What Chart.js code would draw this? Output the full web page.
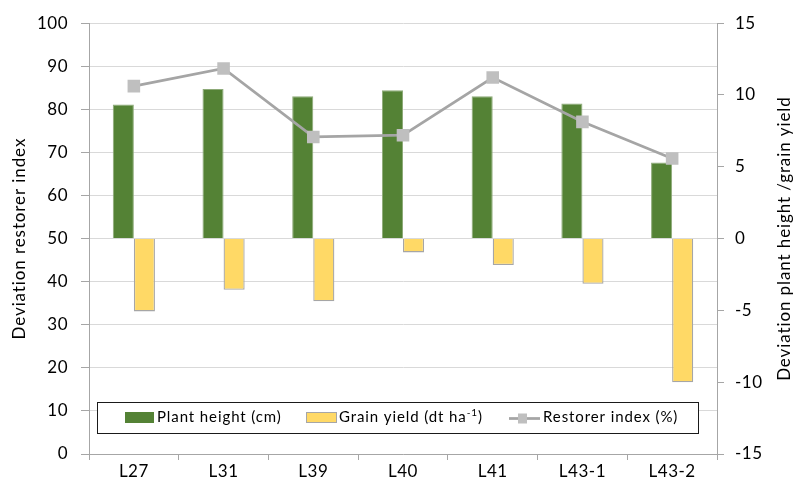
<!DOCTYPE html>
<html>
<head>
<meta charset="utf-8">
<script src="https://cdn.jsdelivr.net/npm/chart.js@4/dist/chart.umd.min.js"></script>
<style>
  html, body { margin: 0; padding: 0; background: #fff; }
  #wrap { width: 799px; height: 487px; position: relative; }
</style>
</head>
<body>
<div id="wrap"><canvas id="c" width="799" height="487"></canvas></div>
<script>
// Lines tested
const categories = ['L27', 'L31', 'L39', 'L40', 'L41', 'L43-1', 'L43-2'];

// Deviations on the right axis
const plantHeight = [9.34, 10.42, 9.92, 10.33, 9.92, 9.41, 5.30];
const grainYield = [-5.07, -3.56, -4.37, -0.96, -1.84, -3.14, -10.0];

// Restorer index on the left axis
const restorerIndex = [85.4, 89.5, 73.6, 74.0, 87.4, 77.1, 68.6];

// Axis ranges
const leftTicks = [0, 10, 20, 30, 40, 50, 60, 70, 80, 90, 100];
const rightTicks = [-15, -10, -5, 0, 5, 10, 15];

const FONT = 'Lato, "Open Sans", sans-serif';
const GREEN = '#548235';
const YELLOW = '#FFD966';
const LINE_GRAY = '#A5A5A5';
const MARK_GRAY = '#BFBFBF';
const AXIS_GRAY = '#A6A6A6';

// slightly open letter spacing for the axis labels
const spacing = {
  id: 'spacing',
  beforeDraw(chart) { chart.ctx.letterSpacing = '0.5px'; }
};

const decorations = {
  id: 'decorations',
  afterDatasetsDraw(chart) {
    const ctx = chart.ctx;
    const a = chart.chartArea;
    ctx.save();

    // legend box inside the plot area
    const bx = a.left + 8, by = a.bottom - 52, bw = a.right - 19 - bx, bh = 31;
    ctx.fillStyle = '#fff';
    ctx.fillRect(bx, by, bw, bh);
    ctx.strokeStyle = '#1a1a1a';
    ctx.lineWidth = 1;
    ctx.strokeRect(bx + 0.5, by + 0.5, bw, bh);

    const cy = by + 15.5;
    ctx.letterSpacing = '0.9px';
    ctx.font = '15px ' + FONT;
    ctx.fillStyle = '#000';
    ctx.textBaseline = 'middle';
    ctx.textAlign = 'left';

    // plant height swatch
    ctx.fillStyle = GREEN;
    ctx.fillRect(a.left + 36, cy - 5.5, 29, 11);
    ctx.fillStyle = '#000';
    ctx.fillText('Plant height (cm)', a.left + 68, cy);

    // grain yield swatch
    ctx.fillStyle = YELLOW;
    ctx.fillRect(a.left + 217, cy - 5.5, 31, 11);
    ctx.strokeStyle = AXIS_GRAY;
    ctx.strokeRect(a.left + 217.5, cy - 5, 30, 10);
    ctx.fillStyle = '#000';
    let tx = a.left + 250;
    const t1 = 'Grain yield (dt ha';
    ctx.fillText(t1, tx, cy);
    tx += ctx.measureText(t1).width;
    ctx.font = '10px ' + FONT;
    ctx.fillText('-1', tx, cy - 5);
    tx += ctx.measureText('-1').width;
    ctx.font = '15px ' + FONT;
    ctx.fillText(')', tx, cy);

    // restorer index sample
    ctx.strokeStyle = LINE_GRAY;
    ctx.lineWidth = 2.75;
    ctx.beginPath();
    ctx.moveTo(a.left + 420, cy + 1);
    ctx.lineTo(a.left + 451, cy + 1);
    ctx.stroke();
    ctx.fillStyle = MARK_GRAY;
    ctx.fillRect(a.left + 429, cy - 4, 9, 10);
    ctx.fillStyle = '#000';
    ctx.fillText('Restorer index (%)', a.left + 454, cy);

    // axis titles
    ctx.letterSpacing = '0.9px';
    ctx.font = '17px ' + FONT;
    ctx.textAlign = 'center';
    ctx.textBaseline = 'middle';
    const midY = (a.top + a.bottom) / 2;
    ctx.save();
    ctx.translate(20, midY);
    ctx.rotate(-Math.PI / 2);
    ctx.fillText('Deviation restorer index', 0, 0);
    ctx.restore();
    ctx.save();
    ctx.translate(785, midY);
    ctx.rotate(-Math.PI / 2);
    ctx.fillText('Deviation plant height /grain yield', 0, 0);
    ctx.restore();

    ctx.restore();
  }
};

new Chart(document.getElementById('c'), {
  data: {
    labels: categories,
    datasets: [
      {
        type: 'line',
        label: 'Restorer index (%)',
        data: restorerIndex,
        yAxisID: 'y',
        order: 0,
        borderColor: LINE_GRAY,
        borderWidth: 2.75,
        tension: 0,
        pointStyle: 'rect',
        pointRadius: 8.9,
        pointBackgroundColor: MARK_GRAY,
        pointBorderColor: MARK_GRAY,
        pointBorderWidth: 0
      },
      {
        type: 'bar',
        label: 'Plant height (cm)',
        data: plantHeight,
        yAxisID: 'y1',
        order: 1,
        backgroundColor: GREEN,
        borderColor: '#8DAA78',
        borderWidth: 1,
        categoryPercentage: 0.47,
        barPercentage: 1.0
      },
      {
        type: 'bar',
        label: 'Grain yield (dt ha-1)',
        data: grainYield,
        yAxisID: 'y1',
        order: 1,
        backgroundColor: YELLOW,
        borderColor: AXIS_GRAY,
        borderWidth: 1.3,
        categoryPercentage: 0.47,
        barPercentage: 1.0
      }
    ]
  },
  options: {
    responsive: false,
    animation: false,
    events: [],
    layout: { padding: { top: 23, left: 0, right: 0, bottom: 0 } },
    plugins: { legend: { display: false }, tooltip: { enabled: false } },
    scales: {
      x: {
        type: 'category',
        offset: true,
        grid: { offset: true, drawOnChartArea: false, tickLength: 6, color: AXIS_GRAY },
        border: { color: AXIS_GRAY, width: 1 },
        ticks: { color: '#000', font: { family: FONT, size: 17 }, padding: 1 },
        afterFit(s) { s.height = 33; }
      },
      y: {
        position: 'left',
        min: leftTicks[0],
        max: leftTicks[leftTicks.length - 1],
        afterBuildTicks(s) { s.ticks = leftTicks.map(v => ({ value: v })); },
        grid: { color: '#D9D9D9', tickColor: AXIS_GRAY, tickLength: 8, lineWidth: 1 },
        border: { color: AXIS_GRAY, width: 1 },
        ticks: { color: '#000', font: { family: FONT, size: 17 }, padding: 13 },
        afterFit(s) { s.width = 89; }
      },
      y1: {
        position: 'right',
        min: rightTicks[0],
        max: rightTicks[rightTicks.length - 1],
        afterBuildTicks(s) { s.ticks = rightTicks.map(v => ({ value: v })); },
        grid: { drawOnChartArea: false, tickColor: AXIS_GRAY, tickLength: 7 },
        border: { color: AXIS_GRAY, width: 1 },
        ticks: { color: '#000', font: { family: FONT, size: 17 }, padding: 11 },
        afterFit(s) { s.width = 82; }
      }
    }
  },
  plugins: [spacing, decorations]
});
</script>
</body>
</html>
